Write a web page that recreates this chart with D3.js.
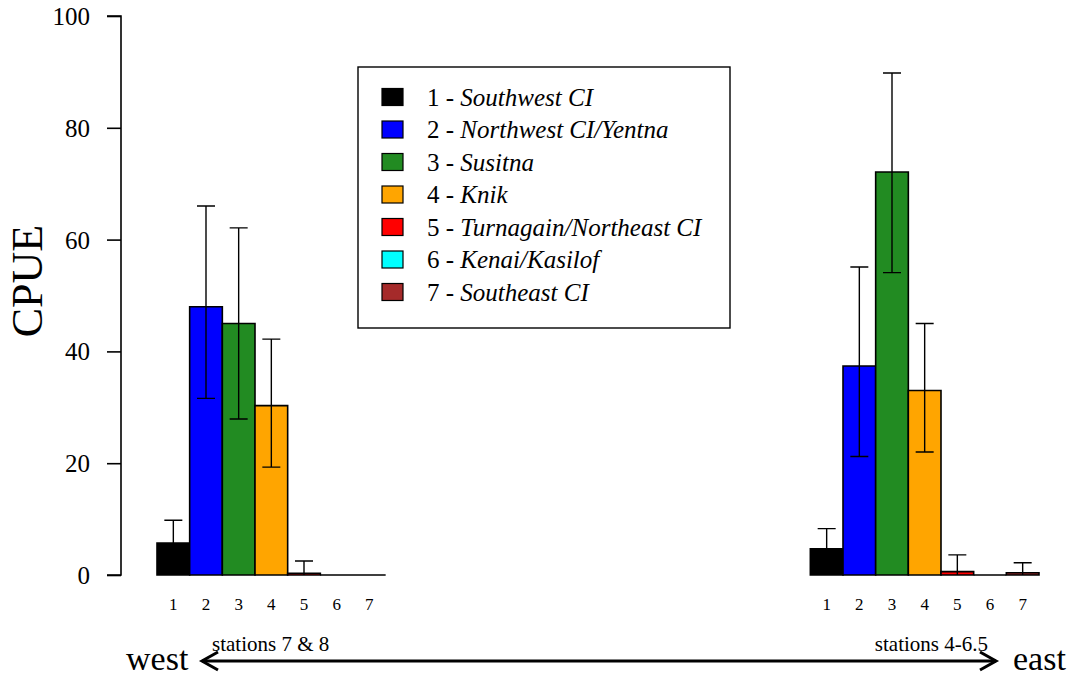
<!DOCTYPE html>
<html>
<head>
<meta charset="utf-8">
<script src="https://cdn.jsdelivr.net/npm/d3@7"></script>
<style>
  html, body { margin: 0; padding: 0; background: #fff; }
  svg { display: block; }
  text { font-family: "Liberation Serif", "Times New Roman", serif; fill: #000; }
</style>
</head>
<body>
<svg id="chart" width="1071" height="675"></svg>
<script>
// ---- data ----
const categories = ["1", "2", "3", "4", "5", "6", "7"];
const regionNames = ["Southwest CI", "Northwest CI/Yentna", "Susitna", "Knik",
                     "Turnagain/Northeast CI", "Kenai/Kasilof", "Southeast CI"];
const regionColors = ["#000000", "#0000FF", "#228B22", "#FFA500", "#FF0000", "#00FFFF", "#A52A2A"];
const groups = ["stations 7 & 8", "stations 4-6.5"];

const westMean  = [5.7, 48.0, 45.0, 30.3, 0.3, 0, 0];
const westLower = [1.6, 31.6, 27.9, 19.3, 0, null, null];
const westUpper = [9.8, 66.0, 62.1, 42.2, 2.5, null, null];

const eastMean  = [4.7, 37.4, 72.1, 33.0, 0.6, 0, 0.4];
const eastLower = [1.1, 21.2, 54.1, 22.0, 0, null, 0];
const eastUpper = [8.3, 55.1, 89.8, 45.0, 3.6, null, 2.2];

const yTicks = [0, 20, 40, 60, 80, 100];

// ---- layout ----
const svg = d3.select("#chart");
const y = d3.scaleLinear().domain([0, 100]).range([575, 16]);
// bar units: group 1 occupies 0..7, group 2 occupies 20..27
const groupStart = [0, 20];
const x = d3.scaleLinear().domain([0, 27]).range([157, 1039]);
const bw = x(1) - x(0);

// y axis
const yAxis = d3.axisLeft(y).tickValues(yTicks).tickSize(14).tickPadding(17).tickFormat(d3.format("d"));
const ga = svg.append("g").attr("transform", "translate(121,0)").call(yAxis);
ga.select(".domain").attr("stroke", "#000").attr("stroke-width", 1.6).attr("d", `M-14,${y(100)}H0V${y(0)}H-14`);
ga.selectAll(".tick line").attr("stroke", "#000").attr("stroke-width", 1.6);
ga.selectAll(".tick text").style("font-family", '"Liberation Serif", serif').style("font-size", "25px").attr("dy", "0.34em");

svg.append("text")
  .attr("transform", "translate(42,281) rotate(-90)")
  .attr("text-anchor", "middle")
  .style("font-size", "44px")
  .text("CPUE");

// bars
const series = [
  { mean: westMean, lo: westLower, hi: westUpper },
  { mean: eastMean, lo: eastLower, hi: eastUpper }
];

series.forEach((s, gi) => {
  const g = svg.append("g");
  const rows = categories.map((c, i) => ({ c, i, m: s.mean[i], lo: s.lo[i], hi: s.hi[i] }));
  g.selectAll("path.bar").data(rows).enter().append("path")
    .attr("class", "bar")
    .attr("d", d => {
      const x0 = x(groupStart[gi] + d.i), x1 = x(groupStart[gi] + d.i + 1);
      return `M${x0},${y(0)}H${x1}V${y(d.m)}H${x0}Z`;
    })
    .attr("fill", d => regionColors[d.i])
    .attr("stroke", "#000")
    .attr("stroke-width", 1.6);

  // error bars
  const eb = rows.filter(d => d.hi !== null);
  const cx = d => x(groupStart[gi] + d.i + 0.5);
  g.selectAll("path.err").data(eb).enter().append("path")
    .attr("class", "err")
    .attr("fill", "none")
    .attr("stroke", "#000")
    .attr("stroke-width", 1.4)
    .attr("d", d => {
      const c = cx(d), h = 9;
      let p = `M${c},${y(d.lo)}V${y(d.hi)}M${c - h},${y(d.hi)}H${c + h}`;
      if (d.lo > 0) p += `M${c - h},${y(d.lo)}H${c + h}`;
      return p;
    });

  // category labels
  g.selectAll("text.cat").data(rows).enter().append("text")
    .attr("class", "cat")
    .attr("x", d => x(groupStart[gi] + d.i + 0.5))
    .attr("y", 610)
    .attr("text-anchor", "middle")
    .style("font-size", "17px")
    .text(d => d.c);
});

// legend
const lg = svg.append("g");
lg.append("rect").attr("x", 358).attr("y", 67).attr("width", 372).attr("height", 261)
  .attr("fill", "#fff").attr("stroke", "#000").attr("stroke-width", 1.4);
categories.forEach((c, i) => {
  const cy = 97 + i * 32.5;
  lg.append("rect").attr("x", 382).attr("y", cy - 8.5).attr("width", 21).attr("height", 17)
    .attr("fill", regionColors[i]).attr("stroke", "#000").attr("stroke-width", 1.2);
  const t = lg.append("text").attr("x", 427).attr("y", cy + 8.5).style("font-size", "25px");
  t.append("tspan").text(c + " - ");
  t.append("tspan").style("font-style", "italic").text(regionNames[i]);
});

// bottom direction arrow
const ay = 661;
const ax0 = 202, ax1 = 996;
svg.append("path")
  .attr("fill", "none").attr("stroke", "#000").attr("stroke-width", 3)
  .attr("d", `M${ax0},${ay}H${ax1}`);
svg.append("path")
  .attr("fill", "none").attr("stroke", "#000").attr("stroke-width", 3).attr("stroke-linejoin", "miter")
  .attr("d", `M${ax0 + 16},${ay - 9}L${ax0},${ay}L${ax0 + 16},${ay + 9}M${ax1 - 16},${ay - 9}L${ax1},${ay}L${ax1 - 16},${ay + 9}`);

svg.append("text").attr("x", 126).attr("y", 670).style("font-size", "34px").text("west");
svg.append("text").attr("x", 1013).attr("y", 670).style("font-size", "34px").text("east");
svg.append("text").attr("x", 212).attr("y", 651).style("font-size", "21px").text(groups[0]);
svg.append("text").attr("x", 988).attr("y", 651).attr("text-anchor", "end").style("font-size", "21px").text(groups[1]);
</script>
</body>
</html>
